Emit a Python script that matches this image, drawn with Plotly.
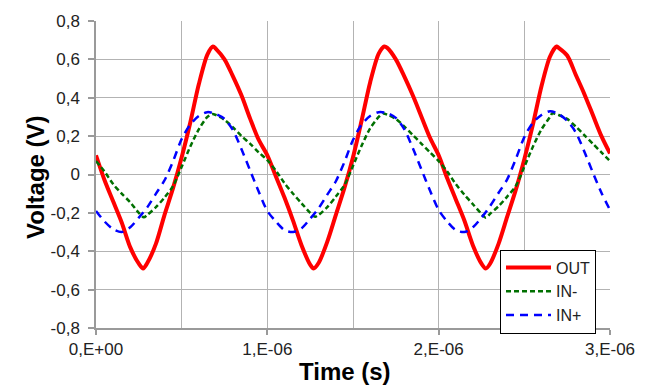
import plotly.graph_objects as go

# Output voltage: sample times (µs) and values (V)
t_out = [
    0.00, 0.05, 0.10, 0.15, 0.20, 0.25, 0.275, 0.30, 0.35, 0.40, 0.45,
    0.50, 0.55, 0.60, 0.65, 0.683, 0.70, 0.75, 0.80, 0.85, 0.90, 0.95,
    1.00, 1.05, 1.10, 1.15, 1.20, 1.25, 1.27, 1.30, 1.35, 1.40, 1.45,
    1.50, 1.55, 1.60, 1.65, 1.683, 1.70, 1.75, 1.80, 1.85, 1.90, 1.95,
    2.00, 2.05, 2.10, 2.15, 2.20, 2.25, 2.275, 2.30, 2.35, 2.40, 2.45,
    2.50, 2.55, 2.60, 2.65, 2.688, 2.70, 2.75, 2.80, 2.85, 2.90, 2.95,
    3.00,
]
v_out = [
    0.10, -0.03, -0.14, -0.25, -0.38, -0.465, -0.49, -0.46, -0.36, -0.21, -0.07,
    0.09, 0.27, 0.47, 0.625, 0.667, 0.655, 0.60, 0.51, 0.41, 0.29, 0.18,
    0.10, -0.01, -0.12, -0.24, -0.37, -0.47, -0.49, -0.46, -0.35, -0.21, -0.07,
    0.09, 0.28, 0.48, 0.63, 0.667, 0.66, 0.60, 0.51, 0.41, 0.30, 0.19,
    0.10, -0.02, -0.13, -0.24, -0.37, -0.465, -0.49, -0.465, -0.36, -0.22, -0.08,
    0.08, 0.26, 0.46, 0.615, 0.667, 0.66, 0.62, 0.52, 0.42, 0.31, 0.20,
    0.11,
]

# Inverting input: sample times (µs) and values (V)
t_in_minus = [
    0.00, 0.05, 0.10, 0.15, 0.20, 0.25, 0.279, 0.30, 0.35, 0.40, 0.45,
    0.50, 0.55, 0.60, 0.65, 0.678, 0.70, 0.75, 0.80, 0.85, 0.90, 0.95,
    1.00, 1.05, 1.10, 1.15, 1.20, 1.25, 1.279, 1.30, 1.35, 1.40, 1.45,
    1.50, 1.55, 1.60, 1.65, 1.676, 1.70, 1.75, 1.80, 1.85, 1.90, 1.95,
    2.00, 2.05, 2.10, 2.15, 2.20, 2.25, 2.275, 2.30, 2.35, 2.40, 2.45,
    2.50, 2.55, 2.60, 2.65, 2.663, 2.70, 2.75, 2.80, 2.85, 2.90, 2.95,
    3.00,
]
v_in_minus = [
    0.07, 0.015, -0.05, -0.10, -0.145, -0.20, -0.223, -0.21, -0.17, -0.12, -0.06,
    0.04, 0.145, 0.235, 0.30, 0.315, 0.31, 0.285, 0.245, 0.20, 0.16, 0.115,
    0.075, 0.02, -0.045, -0.10, -0.15, -0.20, -0.22, -0.21, -0.17, -0.115, -0.055,
    0.045, 0.15, 0.24, 0.30, 0.318, 0.312, 0.29, 0.25, 0.205, 0.16, 0.115,
    0.07, 0.015, -0.05, -0.105, -0.155, -0.205, -0.225, -0.205, -0.165, -0.115, -0.06,
    0.04, 0.145, 0.235, 0.30, 0.318, 0.31, 0.29, 0.25, 0.205, 0.16, 0.115,
    0.07,
]

# Non-inverting input: sample times (µs) and values (V)
t_in_plus = [
    0.00, 0.05, 0.10, 0.15, 0.20, 0.25, 0.30, 0.35, 0.40, 0.45,
    0.50, 0.55, 0.60, 0.65, 0.70, 0.75, 0.80, 0.85, 0.90, 0.95,
    1.00, 1.05, 1.10, 1.15, 1.20, 1.25, 1.30, 1.35, 1.40, 1.45,
    1.50, 1.55, 1.60, 1.65, 1.70, 1.75, 1.80, 1.85, 1.90, 1.95,
    2.00, 2.05, 2.10, 2.15, 2.20, 2.25, 2.30, 2.35, 2.40, 2.45,
    2.50, 2.55, 2.60, 2.65, 2.70, 2.75, 2.80, 2.85, 2.90, 2.95,
    3.00,
]
v_in_plus = [
    -0.19, -0.245, -0.285, -0.30, -0.275, -0.225, -0.17, -0.10, -0.03, 0.07,
    0.185, 0.26, 0.305, 0.325, 0.315, 0.29, 0.23, 0.13, 0.02, -0.09,
    -0.19, -0.245, -0.29, -0.30, -0.28, -0.23, -0.175, -0.105, -0.035, 0.065,
    0.18, 0.26, 0.305, 0.325, 0.32, 0.295, 0.235, 0.135, 0.025, -0.085,
    -0.185, -0.245, -0.29, -0.30, -0.275, -0.225, -0.165, -0.095, -0.025, 0.08,
    0.195, 0.27, 0.31, 0.33, 0.315, 0.28, 0.22, 0.12, 0.01, -0.095,
    -0.185,
]

x_tick_vals = [0, 1, 2, 3]
x_tick_text = ["0,E+00", "1,E-06", "2,E-06", "3,E-06"]
y_tick_vals = [-0.8, -0.6, -0.4, -0.2, 0, 0.2, 0.4, 0.6, 0.8]
y_tick_text = ["-0,8", "-0,6", "-0,4", "-0,2", "0", "0,2", "0,4", "0,6", "0,8"]

FONT = "Liberation Sans, Arial, sans-serif"
GRID = "#b3b3b3"
AXIS = "#9a9a9a"
TEXT = "#222222"

fig = go.Figure()
fig.add_trace(go.Scatter(
    x=t_out, y=v_out, name="OUT", mode="lines",
    line=dict(color="#ff0000", width=4, shape="spline", smoothing=0.8),
))
fig.add_trace(go.Scatter(
    x=t_in_minus, y=v_in_minus, name="IN-", mode="lines",
    line=dict(color="#007000", width=2.5, dash="5px,3px", shape="spline", smoothing=0.8),
))
fig.add_trace(go.Scatter(
    x=t_in_plus, y=v_in_plus, name="IN+", mode="lines",
    line=dict(color="#0000ff", width=2.5, dash="8px,6px", shape="spline", smoothing=0.8),
))

fig.update_layout(
    width=648, height=387,
    margin=dict(l=96, r=38, t=15, b=59),
    paper_bgcolor="white", plot_bgcolor="white",
    font=dict(family=FONT, size=17, color=TEXT),
    showlegend=True,
    legend=dict(
        x=0.786, y=0.2556, xanchor="left", yanchor="top",
        bgcolor="white", bordercolor="#000000", borderwidth=1,
        font=dict(family=FONT, size=16, color=TEXT),
        itemwidth=45, tracegroupgap=0,
    ),
    xaxis=dict(
        range=[0, 3], tickvals=x_tick_vals, ticktext=x_tick_text,
        showgrid=True, gridcolor=GRID, gridwidth=1.3,
        minor=dict(dtick=0.5, showgrid=True, gridcolor=GRID, gridwidth=1.3, ticks=""),
        showline=True, linecolor=AXIS, linewidth=1.5,
        ticks="outside", ticklen=5, tickcolor=AXIS, tickwidth=1.5,
        zeroline=False, tickfont=dict(size=17, color=TEXT),
    ),
    yaxis=dict(
        range=[-0.8, 0.8], tickvals=y_tick_vals, ticktext=y_tick_text,
        showgrid=True, gridcolor=GRID, gridwidth=1.3,
        showline=True, linecolor=AXIS, linewidth=1.5,
        ticks="outside", ticklen=6, tickcolor=AXIS, tickwidth=1.5,
        zeroline=False, tickfont=dict(size=17, color=TEXT),
        ticklabelstandoff=5,
    ),
    annotations=[
        dict(text="<b>Time (s)</b>", xref="paper", yref="paper",
             x=0.4844, y=-0.1406, xanchor="center", yanchor="middle",
             showarrow=False, font=dict(family=FONT, size=24, color="#000000")),
        dict(text="<b>Voltage (V)</b>", xref="paper", yref="paper",
             x=-0.1167, y=0.492, xanchor="center", yanchor="middle",
             textangle=-90, showarrow=False,
             font=dict(family=FONT, size=24, color="#000000")),
    ],
)

fig.write_html("out.html")
